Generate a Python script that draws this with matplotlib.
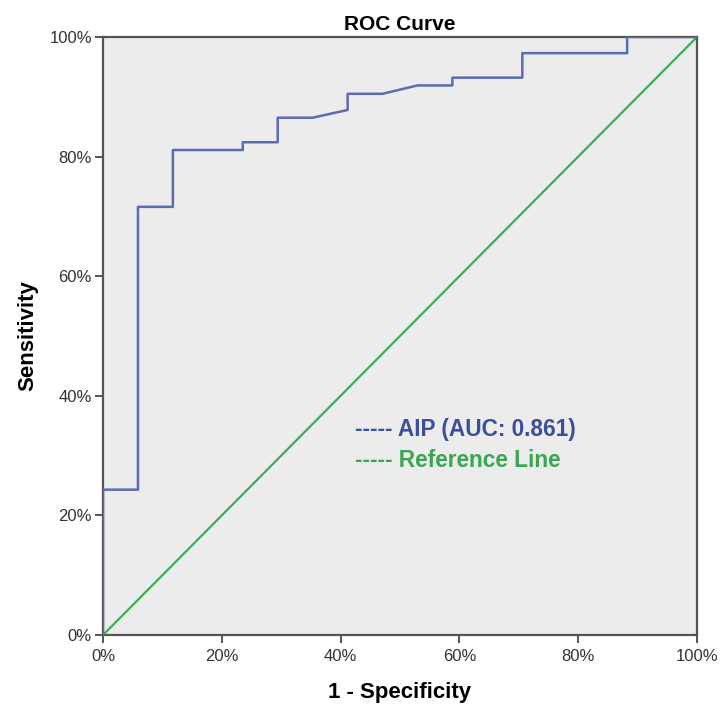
import matplotlib
matplotlib.use("Agg")
import matplotlib.pyplot as plt
from matplotlib.ticker import PercentFormatter

plt.rcParams['font.family'] = ['Liberation Sans', 'DejaVu Sans']

# ROC curve data (1 - specificity, sensitivity)
fpr = [0.0, 0.0, 0.0588, 0.0588, 0.1176, 0.1176, 0.2353, 0.2353, 0.2941, 0.2941,
       0.3529, 0.4118, 0.4118, 0.4706, 0.5294, 0.5882, 0.5882, 0.7059, 0.7059,
       0.8824, 0.8824, 1.0]
tpr = [0.0, 0.243, 0.243, 0.716, 0.716, 0.811, 0.811, 0.824, 0.824, 0.865,
       0.865, 0.878, 0.905, 0.905, 0.919, 0.919, 0.932, 0.932, 0.973,
       0.973, 1.0, 1.0]
ref_x = [0.0, 1.0]
ref_y = [0.0, 1.0]
ticks = [0.0, 0.2, 0.4, 0.6, 0.8, 1.0]
legend_labels = ["----- AIP (AUC: 0.861)", "----- Reference Line"]

fig = plt.figure(figsize=(7.21, 7.17), dpi=100)
ax = fig.add_axes([0.1429, 0.1144, 0.8238, 0.8340])
ax.set_facecolor('#ececec')

ax.plot(ref_x, ref_y, color='#3cae58', lw=1.6, zorder=2)
ax.plot(fpr, tpr, color='#5b6db0', lw=1.8, zorder=3)

ax.set_xlim(0, 1)
ax.set_ylim(0, 1)
ax.set_xticks(ticks)
ax.set_yticks(ticks)
ax.xaxis.set_major_formatter(PercentFormatter(1.0, decimals=0))
ax.yaxis.set_major_formatter(PercentFormatter(1.0, decimals=0))
for s in ax.spines.values():
    s.set_color('#555555')
    s.set_linewidth(1.6)
ax.tick_params(direction='out', length=6, width=1.4, color='#555555',
               labelsize=12, labelcolor='#333333', pad=2)
ax.tick_params(axis='x', pad=4)

ax.set_title('ROC Curve', fontsize=15, fontweight='bold', pad=5)
ax.set_xlabel('1 - Specificity', fontsize=16, fontweight='bold', labelpad=13)
ax.set_ylabel('Sensitivity', fontsize=16, fontweight='bold', labelpad=8)

ax.text(0.424, 0.343, legend_labels[0], color='#3b4f9a', fontsize=16.3,
        fontweight='bold', va='center', ha='left')
ax.text(0.424, 0.291, legend_labels[1], color='#3aa655', fontsize=16.3,
        fontweight='bold', va='center', ha='left')

fig.savefig('out.png', dpi=100)
